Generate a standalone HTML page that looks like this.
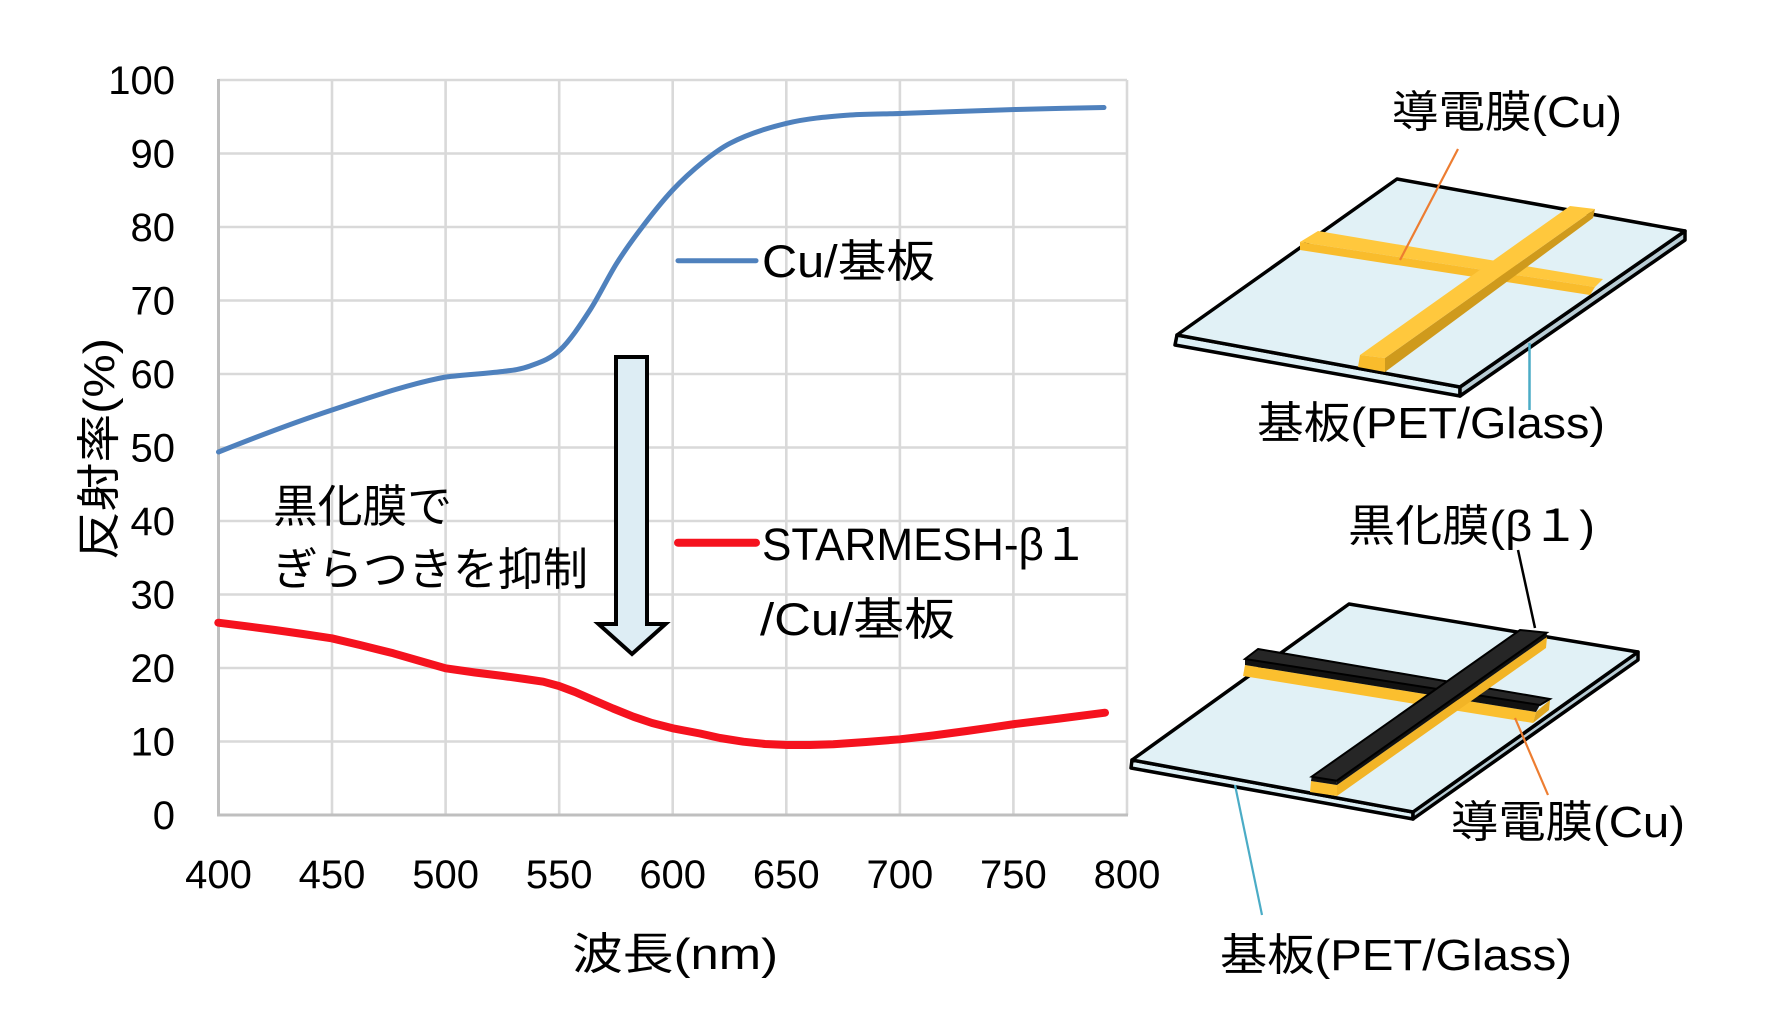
<!DOCTYPE html>
<html>
<head>
<meta charset="utf-8">
<style>
html,body{margin:0;padding:0;background:#fff;}
svg{display:block;}
text{font-family:"Liberation Sans","Noto Sans CJK JP",sans-serif;fill:#000;}
</style>
</head>
<body>
<svg width="1765" height="1024" viewBox="0 0 1765 1024" xmlns="http://www.w3.org/2000/svg">
<rect width="1765" height="1024" fill="#fff"/>

<!-- Grid -->
<g stroke="#D9D9D9" stroke-width="2.6" fill="none">
  <line x1="332" y1="80" x2="332" y2="815"/>
  <line x1="445.6" y1="80" x2="445.6" y2="815"/>
  <line x1="559.2" y1="80" x2="559.2" y2="815"/>
  <line x1="672.7" y1="80" x2="672.7" y2="815"/>
  <line x1="786.3" y1="80" x2="786.3" y2="815"/>
  <line x1="899.9" y1="80" x2="899.9" y2="815"/>
  <line x1="1013.4" y1="80" x2="1013.4" y2="815"/>
  <line x1="1127" y1="80" x2="1127" y2="815"/>
  <line x1="218.5" y1="80" x2="1127" y2="80"/>
  <line x1="218.5" y1="153.5" x2="1127" y2="153.5"/>
  <line x1="218.5" y1="227" x2="1127" y2="227"/>
  <line x1="218.5" y1="300.5" x2="1127" y2="300.5"/>
  <line x1="218.5" y1="374" x2="1127" y2="374"/>
  <line x1="218.5" y1="447.5" x2="1127" y2="447.5"/>
  <line x1="218.5" y1="521" x2="1127" y2="521"/>
  <line x1="218.5" y1="594.5" x2="1127" y2="594.5"/>
  <line x1="218.5" y1="668" x2="1127" y2="668"/>
  <line x1="218.5" y1="741.5" x2="1127" y2="741.5"/>
</g>
<g stroke="#BFBFBF" stroke-width="3" fill="none">
  <line x1="218.5" y1="79" x2="218.5" y2="816"/>
  <line x1="217" y1="815" x2="1128" y2="815"/>
</g>

<!-- Y tick labels -->
<g font-size="40" text-anchor="end">
  <text x="175" y="94">100</text>
  <text x="175" y="167.5">90</text>
  <text x="175" y="241">80</text>
  <text x="175" y="314.5">70</text>
  <text x="175" y="388">60</text>
  <text x="175" y="461.5">50</text>
  <text x="175" y="535">40</text>
  <text x="175" y="608.5">30</text>
  <text x="175" y="682">20</text>
  <text x="175" y="755.5">10</text>
  <text x="175" y="829">0</text>
</g>
<!-- X tick labels -->
<g font-size="40" text-anchor="middle">
  <text x="218.5" y="888">400</text>
  <text x="332" y="888">450</text>
  <text x="445.6" y="888">500</text>
  <text x="559.2" y="888">550</text>
  <text x="672.7" y="888">600</text>
  <text x="786.3" y="888">650</text>
  <text x="899.9" y="888">700</text>
  <text x="1013.4" y="888">750</text>
  <text x="1127" y="888">800</text>
</g>

<!-- Axis titles -->
<text x="675" y="969" font-size="44" text-anchor="middle" textLength="206" lengthAdjust="spacingAndGlyphs">波長(nm)</text>
<text transform="translate(114,449) rotate(-90)" font-size="44" text-anchor="middle" textLength="222" lengthAdjust="spacingAndGlyphs">反射率(%)</text>

<!-- Blue curve -->
<path fill="none" stroke="#4F81BD" stroke-width="5" stroke-linejoin="round" stroke-linecap="round"
 d="M218.5,452 C256.3,436.9 294.2,422.5 332,410 C369.9,397.5 407.8,384.2 445.7,377 C464.6,374.7 483.6,373.8 502.5,371.5 C511.7,370.4 520.8,369.4 530,366 C540,362.3 550,359.3 560,350 C570,340.7 580,325.4 590,310 C598.9,296.3 607.8,277.5 616.7,263.3 C624.5,251 632.2,240.3 640,230 C650.9,215.5 661.8,201.7 672.7,190 C682.9,179.1 693.1,170 703.3,161.7 C712.2,154.5 721.1,147.9 730,143.3 C748.9,133.5 767.8,127.8 786.7,123.3 C807.8,118.2 828.9,116.7 850,115 C866.7,114 883.3,114 900,113.5 C938.3,112.3 976.7,110.6 1015,109.5 C1044.7,108.7 1074.3,108.1 1104,107.5"/>

<!-- Red curve -->
<polyline fill="none" stroke="#F5121E" stroke-width="8" stroke-linejoin="round" stroke-linecap="round"
 points="218.3,622.7 247,626.3 275,630 303,634 331.7,638.3 360,645 393.3,653.3 420,661 445.7,668.3 475,672.5 503.3,676 525,679 543.3,681.7 559,686 575,692 593.3,700 613,708.5 633.3,716.7 652,723 672.7,728.3 700,733.5 720,738 743.3,741.7 765,744 787.3,745 810,745 833.3,744.3 866,742 900,739.3 933,735.5 966.7,731 990,727.7 1015,724 1060,718.5 1105,712.7"/>

<!-- Legend -->
<line x1="678" y1="260.7" x2="756" y2="260.7" stroke="#4F81BD" stroke-width="5" stroke-linecap="round"/>
<text x="762" y="277" font-size="45" textLength="173" lengthAdjust="spacingAndGlyphs">Cu/基板</text>
<line x1="678" y1="542.7" x2="756" y2="542.7" stroke="#F5121E" stroke-width="8" stroke-linecap="round"/>
<text x="762" y="560" font-size="45" textLength="326" lengthAdjust="spacingAndGlyphs">STARMESH-β１</text>
<text x="760" y="635" font-size="45" textLength="195" lengthAdjust="spacingAndGlyphs">/Cu/基板</text>

<!-- Annotation -->
<text x="273" y="522" font-size="45" textLength="179" lengthAdjust="spacingAndGlyphs">黒化膜で</text>
<text x="273" y="585" font-size="45" textLength="315" lengthAdjust="spacingAndGlyphs">ぎらつきを抑制</text>

<!-- Down arrow -->
<polygon points="616,357 647,357 647,624 665.5,624 632,654 598.5,624 616,624" fill="#DDEDF4" stroke="#000" stroke-width="4" stroke-linejoin="miter"/>

<!-- ===== Upper diagram ===== -->
<g stroke="#000" stroke-width="3.5" stroke-linejoin="round">
  <polygon points="1177,335 1460,387 1460,396 1175,345" fill="#DDEFF5"/>
  <polygon points="1460,387 1685,231 1685,240 1460,396" fill="#B8CCD4"/>
  <polygon points="1177,335 1397,179 1685,231 1460,387" fill="#E1F1F6"/>
</g>
<!-- Cu horizontal bar -->
<polygon points="1318,231 1603,279 1595,287 1300,242" fill="#FFC83D"/>
<polygon points="1300,242 1595,287 1590,295 1300,250" fill="#F9BC2C"/>
<!-- Cu diagonal bar -->
<polygon points="1385,358 1595,209 1593,218 1385,372" fill="#CF9A1C"/>
<polygon points="1360,355 1570,206 1595,209 1385,358" fill="#FFC83D"/>
<polygon points="1360,355 1385,358 1385,372 1358,367" fill="#F9BC2C"/>
<!-- leaders -->
<line x1="1458" y1="149" x2="1400" y2="260" stroke="#ED7D31" stroke-width="2.2"/>
<line x1="1529.5" y1="343" x2="1529.5" y2="410" stroke="#4BACC6" stroke-width="2.5"/>
<text x="1392" y="127" font-size="44" textLength="230" lengthAdjust="spacingAndGlyphs">導電膜(Cu)</text>
<text x="1257" y="438" font-size="44" textLength="348" lengthAdjust="spacingAndGlyphs">基板(PET/Glass)</text>

<!-- ===== Lower diagram ===== -->
<g stroke="#000" stroke-width="3.5" stroke-linejoin="round">
  <polygon points="1132,760 1413,812 1413,819 1131,768" fill="#DDEFF5"/>
  <polygon points="1413,812 1638,652 1638,660 1413,819" fill="#B8CCD4"/>
  <polygon points="1132,760 1349,604 1638,652 1413,812" fill="#E1F1F6"/>
</g>
<!-- horizontal bar: Cu then black -->
<polygon points="1245,665 1536,712 1533,723 1243,676" fill="#FBBF2E"/>
<polygon points="1536,712 1550,700 1549,710 1533,723" fill="#E0A620"/>
<polygon points="1245,659 1540,705 1536,712 1245,665" fill="#111"/>
<polygon points="1258,649 1550,699 1540,705 1245,659" fill="#262626" stroke="#000" stroke-width="2"/>
<!-- diagonal bar -->
<polygon points="1337,785 1547,637 1546,648 1337,796" fill="#F2B426"/>
<polygon points="1311,781 1337,785 1337,796 1310,792" fill="#FBBF2E"/>
<polygon points="1311.7,776.7 1336.7,780.7 1337,785 1311,781" fill="#111"/>
<polygon points="1336.7,780.7 1546.7,632.7 1547,637 1337,785" fill="#111"/>
<polygon points="1311.7,776.7 1520,630 1546.7,632.7 1336.7,780.7" fill="#262626" stroke="#000" stroke-width="2"/>
<!-- leaders -->
<line x1="1518" y1="550" x2="1535" y2="628" stroke="#000" stroke-width="2.5"/>
<line x1="1515" y1="718" x2="1548" y2="795" stroke="#ED7D31" stroke-width="2.2"/>
<line x1="1235" y1="785" x2="1262" y2="915" stroke="#4BACC6" stroke-width="2.2"/>
<text x="1348" y="541" font-size="44" textLength="247" lengthAdjust="spacingAndGlyphs">黒化膜(β１)</text>
<text x="1451" y="837" font-size="44" textLength="234" lengthAdjust="spacingAndGlyphs">導電膜(Cu)</text>
<text x="1220" y="970" font-size="44" textLength="352" lengthAdjust="spacingAndGlyphs">基板(PET/Glass)</text>
</svg>
</body>
</html>
